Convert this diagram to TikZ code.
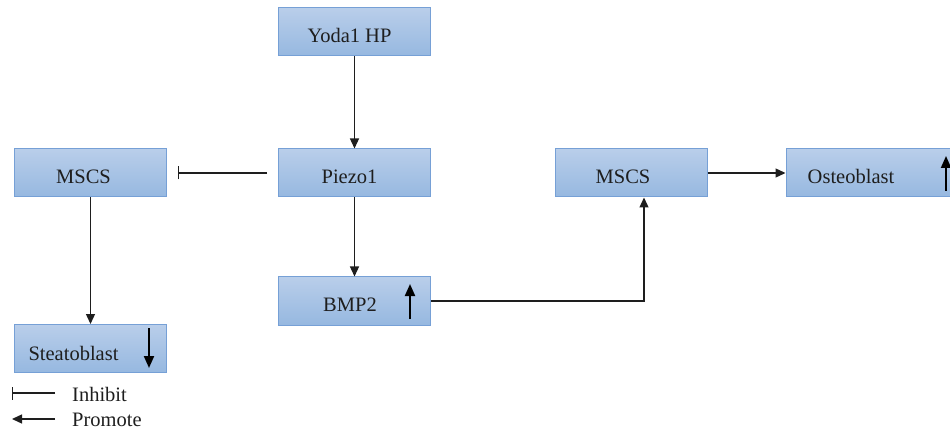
\documentclass[tikz,border=0pt]{standalone}
\usepackage{fontspec}
\setmainfont{Liberation Serif}
\usetikzlibrary{arrows.meta}
\definecolor{boxtop}{RGB}{185,206,234}
\definecolor{boxbot}{RGB}{150,184,224}
\definecolor{boxedge}{RGB}{118,160,214}
\definecolor{ink}{RGB}{30,30,30}
\tikzset{
  box/.style={rectangle, draw=boxedge, line width=1pt, top color=boxtop, bottom color=boxbot,
    minimum width=152pt, minimum height=48pt, inner sep=0pt},
  txt/.style={anchor=base, inner sep=0pt, font=\fontsize{20.5}{23}\selectfont, text=ink},
  conn/.style={draw=ink, line width=1.3pt, -{Triangle[length=10pt,width=9pt]}},
  inh/.style={draw=ink, line width=1.3pt, -{Bar[width=13pt,line width=1.3pt]}},
  updown/.style={draw=black, line width=2pt, -{Triangle[length=12pt,width=10pt]}}
}
\begin{document}
\begin{tikzpicture}[x=1pt,y=-1pt]
\useasboundingbox (0,0) rectangle (950,430);
\clip (0,0) rectangle (950,430);
% boxes
\node[box] (yoda) at (354.5,32) {};
\node[box] (piezo) at (354.5,173) {};
\node[box] (mscsL) at (90.5,173) {};
\node[box] (steato) at (90.5,348.5) {};
\node[box] (bmp) at (354.5,301) {};
\node[box] (mscsR) at (631,173) {};
\node[box, minimum width=180pt] (osteo) at (876,173) {};
% texts
\node[txt] (tyoda) at (349.5,43) {Yoda1 HP};
\node[txt] (tpiezo) at (349.5,184) {Piezo1};
\node[txt] (tmscsL) at (83.5,184) {MSCS};
\node[txt] (tsteato) at (73.5,360) {Steatoblast};
\node[txt] (tbmp) at (350,312) {BMP2};
\node[txt] (tmscsR) at (623,184) {MSCS};
\node[txt] (tosteo) at (851,184) {Osteoblast};
% inner arrows
\coordinate (sa1) at (149,328); \coordinate (sa2) at (149,368);
\draw[updown] (sa1) -- (sa2);
\coordinate (ba1) at (410,319); \coordinate (ba2) at (410,284);
\draw[updown] (ba1) -- (ba2);
\coordinate (oa1) at (946,191); \coordinate (oa2) at (946,156);
\draw[updown] (oa1) -- (oa2);
% connectors
\draw[conn] (yoda.south) -- (piezo.north);
\draw[conn] (piezo.south) -- (bmp.north);
\draw[conn] (mscsL.south) -- (steato.north);
\draw[inh] ([xshift=-11pt]piezo.west) -- ([xshift=11pt]mscsL.east);
\draw[conn] (bmp.east) -| ([xshift=13pt]mscsR.south);
\draw[conn] (mscsR.east) -- (osteo.west);
% legend
\coordinate (l1a) at (55,393); \coordinate (l1b) at (12,393);
\draw[inh] (l1a) -- (l1b);
\coordinate (l2a) at (55,419); \coordinate (l2b) at (12,419);
\draw[conn] (l2a) -- (l2b);
\node[txt, anchor=base west] (linh) at (72,401) {Inhibit};
\node[txt, anchor=base west] (lpro) at (72,426) {Promote};
\end{tikzpicture}
\end{document}
